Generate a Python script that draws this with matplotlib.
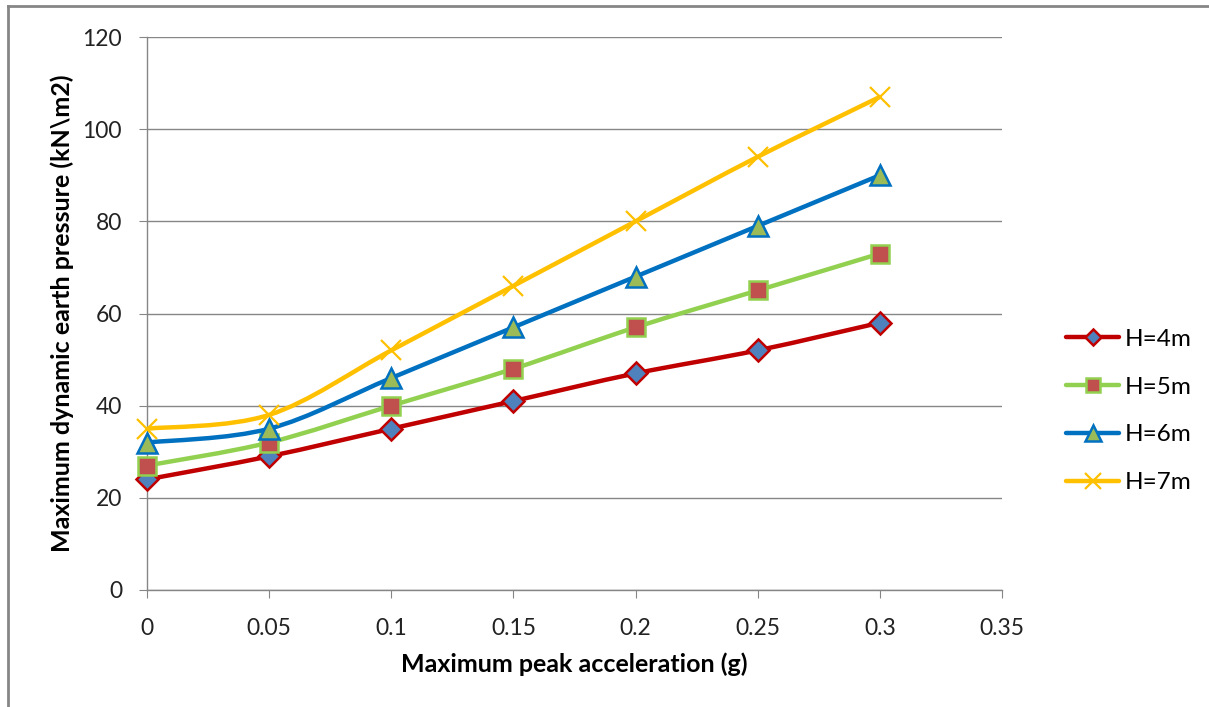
import numpy as np
import matplotlib
matplotlib.use("Agg")
import matplotlib.pyplot as plt
from matplotlib.path import Path
from matplotlib.patches import PathPatch
from matplotlib.lines import Line2D

plt.rcParams['font.family'] = ['Lato', 'DejaVu Sans']

accel = [0, 0.05, 0.1, 0.15, 0.2, 0.25, 0.3]
h4 = [24, 29, 35, 41, 47, 52, 58]
h5 = [27, 32, 40, 48, 57, 65, 73]
h6 = [32, 35, 46, 57, 68, 79, 90]
h7 = [35, 38, 52, 66, 80, 94, 107]
labels = ['H=4m', 'H=5m', 'H=6m', 'H=7m']

styles = [
    dict(color='#C00000', marker='D', mfc='#4F81BD', mec='#C00000', ms=11, mew=1.8),
    dict(color='#92D050', marker='s', mfc='#C0504D', mec='#92D050', ms=13, mew=1.8),
    dict(color='#0070C0', marker='^', mfc='#9BBB59', mec='#0070C0', ms=15, mew=1.8),
    dict(color='#FFC000', marker='x', mfc='#FFC000', mec='#FFC000', ms=15, mew=1.6),
]

fig = plt.figure(figsize=(12.09, 7.07), dpi=100)
ax = fig.add_axes([147/1209, 1-590/707, (1002-147)/1209, (590-37)/707])


def smooth_path(x, y, t=1/6):
    # Bezier segments through the points (Catmull-Rom style control points)
    x = np.asarray(x, float); y = np.asarray(y, float)
    n = len(x)
    verts = [(x[0], y[0])]
    codes = [Path.MOVETO]
    for i in range(n - 1):
        p0 = np.array([x[max(i-1, 0)], y[max(i-1, 0)]])
        p1 = np.array([x[i], y[i]])
        p2 = np.array([x[i+1], y[i+1]])
        p3 = np.array([x[min(i+2, n-1)], y[min(i+2, n-1)]])
        c1 = p1 + (p2 - p0) * t
        c2 = p2 - (p3 - p1) * t
        verts += [tuple(c1), tuple(c2), tuple(p2)]
        codes += [Path.CURVE4] * 3
    return Path(verts, codes)


handles = []
for series, st, lab in zip([h4, h5, h6, h7], styles, labels):
    patch = PathPatch(smooth_path(accel, series), fill=False, edgecolor=st['color'],
                      lw=3.2, capstyle='round', joinstyle='round', zorder=3)
    ax.add_patch(patch)
    ax.plot(accel, series, ls='none', marker=st['marker'], ms=st['ms'],
            mfc=st['mfc'], mec=st['mec'], mew=st['mew'], zorder=4, clip_on=False)
    handles.append(Line2D([], [], color=st['color'], lw=3.2, solid_capstyle='round',
                          marker=st['marker'], ms=st['ms'], mfc=st['mfc'],
                          mec=st['mec'], mew=st['mew']))

ax.set_xlim(0, 0.35)
ax.set_ylim(0, 120)
ax.set_xticks(np.arange(0, 0.351, 0.05))
ax.set_xticklabels(['0', '0.05', '0.1', '0.15', '0.2', '0.25', '0.3', '0.35'])
ax.set_yticks(np.arange(0, 121, 20))
ax.yaxis.grid(True, color='#868686', lw=1.0)
ax.set_axisbelow(True)
for s in ['top', 'right']:
    ax.spines[s].set_visible(False)
for s in ['left', 'bottom']:
    ax.spines[s].set_color('#868686')
    ax.spines[s].set_linewidth(1.0)
ax.tick_params(axis='both', direction='out', length=6, color='#868686',
               labelsize=16.5, labelcolor='#222222')
ax.tick_params(axis='x', pad=14)
ax.tick_params(axis='y', pad=12)

ax.set_xlabel('Maximum peak acceleration (g)', fontsize=18, fontweight='bold',
              labelpad=10)
ax.set_ylabel('Maximum dynamic earth pressure (kN\\m2)', fontsize=18,
              fontweight='bold', labelpad=6)

fig.legend(handles, labels, loc='center left', bbox_to_anchor=(1066/1209, 1-411/707),
           frameon=False, fontsize=17.5, handlelength=2.2, handletextpad=0.2,
           labelspacing=1.1, borderpad=0, borderaxespad=0, markerscale=0.75)

# outer chart border
fig.add_artist(Line2D([8/1209, 8/1209], [0, 1-6/707], color='#868686', lw=2,
                      transform=fig.transFigure))
fig.add_artist(Line2D([8/1209, 1], [1-6/707, 1-6/707], color='#868686', lw=2,
                      transform=fig.transFigure))

fig.savefig('out.png', dpi=100)
